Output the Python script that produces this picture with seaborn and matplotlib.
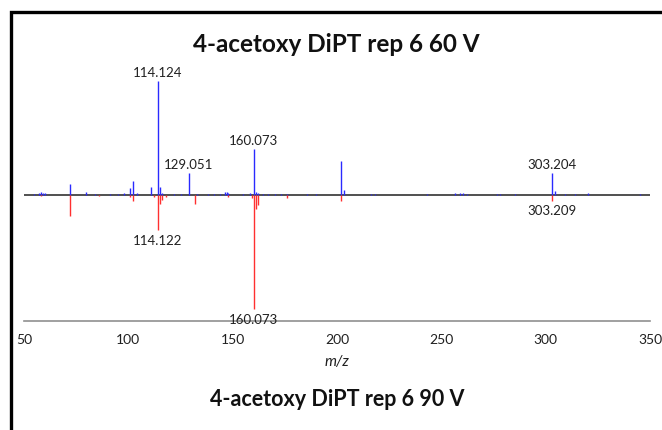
"""
Mirror plot of two mass spectra (60 V up, 90 V down) for 4-acetoxy DiPT rep 6.
"""

import numpy as np
import matplotlib
matplotlib.use("Agg")
import matplotlib.pyplot as plt
from matplotlib.patches import Rectangle
import seaborn as sns

# ================== DATA (relative intensity) ==================
mz_60v = [55.0, 57.1, 58.1, 59.0, 60.1, 72.1, 79.7, 84.1, 91.1, 95.1, 98.1,
          100.8, 102.1, 104.1, 110.9, 114.124, 115.2, 116.1, 122.1, 125.1,
          129.051, 133.1, 138.1, 141.1, 144.1, 146.5, 147.4, 147.8, 155.1,
          158.1, 160.073, 161.1, 162.1, 164.5, 167.1, 170.1, 173.1, 176.1,
          185.5, 190.1, 202.1, 203.4, 216.1, 218.1, 243.1, 256.5, 259.1,
          260.2, 262.1, 276.7, 278.1, 285.1, 303.204, 304.7, 309.1, 314.1,
          320.1, 345.1]
int_60v = [1.2, 1.8, 2.4, 1.5, 2.2, 10.0, 3.0, 1.0, 1.2, 1.0, 1.5,
           6.0, 12.5, 1.5, 7.0, 100.0, 7.0, 1.5, 1.0, 1.2,
           19.0, 1.0, 1.0, 1.2, 1.0, 2.5, 3.0, 1.5, 1.2,
           1.5, 40.0, 3.0, 2.0, 1.0, 1.0, 1.0, 1.0, 1.0,
           1.0, 1.2, 30.0, 4.0, 1.0, 1.2, 1.0, 1.5, 2.0,
           2.0, 1.2, 1.0, 1.0, 1.0, 19.0, 3.5, 1.2, 1.0,
           1.5, 1.0]

mz_90v = [58.1, 72.1, 86.1, 100.8, 102.1, 112.1, 114.122, 115.1, 116.1,
          118.1, 132.1, 147.8, 159.1, 160.073, 161.1, 162.1, 176.1, 202.1,
          303.209]
int_90v = [1.0, 18.0, 1.0, 1.5, 5.0, 2.0, 31.0, 8.0, 4.0,
           1.5, 8.0, 2.0, 3.0, 100.0, 12.0, 9.0, 3.0, 5.0,
           5.0]

labels_60v = ["114.124", "129.051", "160.073", "303.204"]
labels_90v = ["114.122", "160.073", "303.209"]

TITLE_TOP = "4-acetoxy DiPT rep 6 60 V"
TITLE_BOTTOM = "4-acetoxy DiPT rep 6 90 V"


def main():
    sns.set_theme(style="white")
    plt.rcParams['font.family'] = ['Lato', 'DejaVu Sans']

    fig = plt.figure(figsize=(6.62, 4.31), dpi=100)
    ax = fig.add_axes([24 / 662, 109 / 431, 626 / 662, 251.4 / 431])

    up = np.array(int_60v)
    down = -np.array(int_90v)
    ax.vlines(mz_60v, 0, up, color="#2a2aff", lw=1.0)
    ax.vlines(mz_90v, down, 0, color="#ff3030", lw=1.0)
    ax.axhline(0, color="#505050", lw=1.4, zorder=1)

    # peak labels
    for lab in labels_60v:
        i = mz_60v.index(float(lab))
        ax.annotate(lab, (mz_60v[i], int_60v[i]), xytext=(0, 2.5),
                    textcoords="offset points", ha="center", va="bottom",
                    fontsize=9.5, color="#202020")
    for lab in labels_90v:
        i = mz_90v.index(float(lab))
        ax.annotate(lab, (mz_90v[i], -int_90v[i]), xytext=(0, -2.5),
                    textcoords="offset points", ha="center", va="top",
                    fontsize=9.5, color="#202020")

    ax.set_xlim(50, 350)
    ax.set_ylim(-110.5, 110)
    ax.set_yticks([])
    ax.set_xticks(np.arange(50, 351, 50))
    ax.set_xticks(np.arange(50, 351, 100), minor=True)
    ax.tick_params(axis="x", which="major", length=0, pad=9, labelsize=10,
                   labelcolor="#202020")
    ax.tick_params(axis="x", which="minor", bottom=True, direction="in",
                   length=3, width=1, color="#909090")
    sns.despine(ax=ax, left=True, top=True, right=True)
    ax.spines["bottom"].set_color("#909090")
    ax.spines["bottom"].set_linewidth(1.2)
    ax.set_facecolor("none")

    ax.set_xlabel("m/z", style="italic", fontsize=11, labelpad=6,
                  color="#202020")

    fig.text(0.508, (431 - 45) / 431, TITLE_TOP, ha="center", va="center",
             fontsize=17.5, fontweight="bold", color="#111111")
    fig.text(0.51, (431 - 400) / 431, TITLE_BOTTOM, ha="center", va="center",
             fontsize=15.5, fontweight="bold", color="#111111")

    # frame of the original figure panel (cut off on right and bottom)
    fig.add_artist(Rectangle((10.5 / 662, -0.2), 1.3, (431 - 13) / 431 + 0.2,
                             transform=fig.transFigure, fill=False,
                             lw=2.4, ec="black"))

    fig.savefig("out.png", dpi=100)


if __name__ == "__main__":
    main()
